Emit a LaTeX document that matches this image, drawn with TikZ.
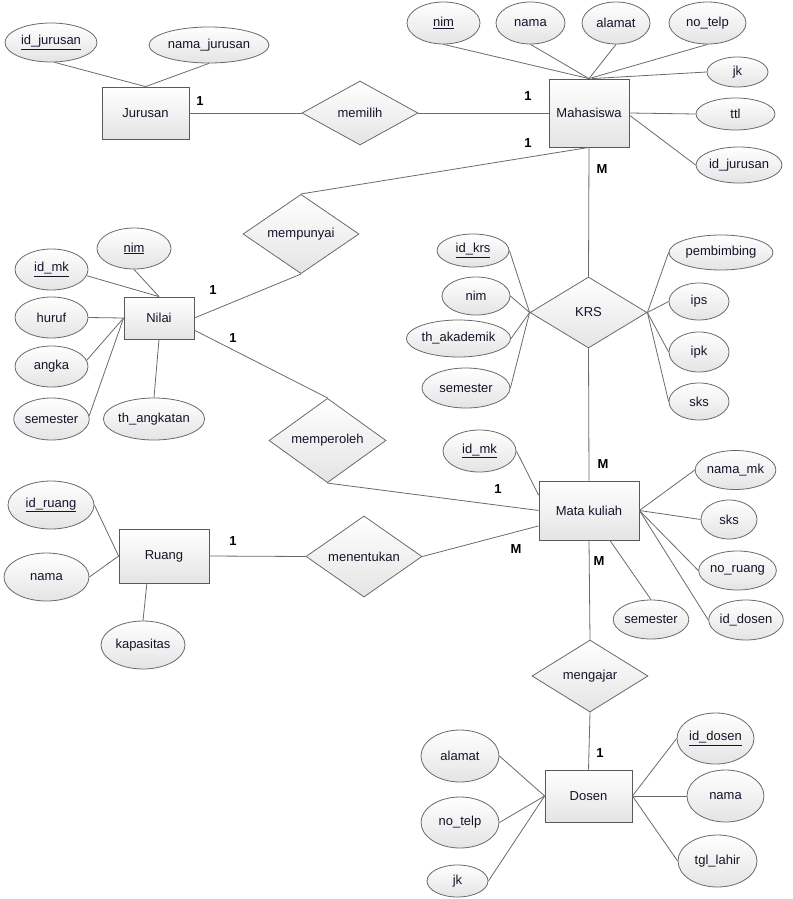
\documentclass[tikz,border=0pt]{standalone}
\usepackage{fontspec}
\setmainfont{Liberation Sans}
\usetikzlibrary{shapes.geometric,shadows}
\definecolor{edgegray}{HTML}{6A6A6A}
\definecolor{fillbot}{HTML}{E4E4E4}
\definecolor{txt}{HTML}{14142A}
\tikzset{
  base/.style={draw=edgegray, line width=0.8pt, top color=white, bottom color=fillbot, text=txt, inner sep=0pt, font=\fontsize{13}{15}\selectfont},
  entity/.style={base, rectangle, draw=black!65, drop shadow={shadow xshift=1.2pt, shadow yshift=-1.2pt, fill=black!25, opacity=1}},
  attr/.style={base, ellipse},
  rel/.style={base, diamond},
  conn/.style={draw=edgegray, line width=0.8pt},
  card/.style={font=\fontsize{13}{15}\selectfont\bfseries, text=black, inner sep=0pt}
}
\begin{document}
\begin{tikzpicture}[x=1pt,y=-1pt]
\useasboundingbox (0,0) rectangle (792,899);
% ---------- entities
\node[entity, minimum width=87pt, minimum height=52pt] (jur) at (145.5,113) {Jurusan};
\node[entity, minimum width=80pt, minimum height=68pt] (mah) at (589,113) {Mahasiswa};
\node[entity, minimum width=70pt, minimum height=42pt] (nil) at (159,318) {Nilai};
\node[entity, minimum width=100pt, minimum height=59pt] (mk) at (589,510.5) {Mata kuliah};
\node[entity, minimum width=90pt, minimum height=54pt] (rua) at (164,556) {Ruang};
\node[entity, minimum width=87pt, minimum height=52pt] (dos) at (588.5,796) {Dosen};
% ---------- relationships
\node[rel, minimum width=116pt, minimum height=64pt] (memilih) at (360,113) {memilih};
\node[rel, minimum width=116pt, minimum height=72pt] (mempunyai) at (301,234) {mempunyai};
\node[rel, minimum width=117pt, minimum height=71pt] (krs) at (588.5,312.5) {KRS};
\node[rel, minimum width=117pt, minimum height=71pt] (memperoleh) at (327.5,440.5) {memperoleh};
\node[rel, minimum width=116pt, minimum height=71pt] (menentukan) at (364,556.5) {menentukan};
\node[rel, minimum width=116pt, minimum height=72pt] (mengajar) at (590,676) {mengajar};
% ---------- Jurusan attributes
\node[attr, minimum width=92pt, minimum height=39pt] (jid) at (51,42.5) {\underline{id\_jurusan}};
\node[attr, minimum width=120pt, minimum height=36pt] (jnama) at (209,45) {nama\_jurusan};
% ---------- Mahasiswa attributes
\node[attr, minimum width=73pt, minimum height=42pt] (mnim) at (443.5,23) {\underline{nim}};
\node[attr, minimum width=69pt, minimum height=42pt] (mnama) at (530.5,23) {nama};
\node[attr, minimum width=68pt, minimum height=42pt] (malamat) at (616,23) {alamat};
\node[attr, minimum width=77pt, minimum height=42pt] (mtelp) at (707.5,23) {no\_telp};
\node[attr, minimum width=61pt, minimum height=30pt] (mjk) at (737.5,72) {jk};
\node[attr, minimum width=79pt, minimum height=32pt] (mttl) at (735.5,114) {ttl};
\node[attr, minimum width=86pt, minimum height=36pt] (mjur) at (739,165) {id\_jurusan};
% ---------- Nilai attributes
\node[attr, minimum width=74pt, minimum height=41pt] (nnim) at (134,248.5) {\underline{nim}};
\node[attr, minimum width=73pt, minimum height=41pt] (nmk) at (51.5,269.5) {\underline{id\_mk}};
\node[attr, minimum width=73pt, minimum height=41pt] (nhuruf) at (51.5,317.5) {huruf};
\node[attr, minimum width=73pt, minimum height=41pt] (nangka) at (51.5,366.5) {angka};
\node[attr, minimum width=73pt, minimum height=42pt] (nsem) at (51.5,419) {semester};
\node[attr, minimum width=80pt, minimum height=42pt] (nth) at (154,419) {th\_angkatan};
% ---------- KRS attributes
\node[attr, minimum width=72pt, minimum height=33pt] (kid) at (473,250.5) {\underline{id\_krs}};
\node[attr, minimum width=68pt, minimum height=38pt] (knim) at (476,296) {nim};
\node[attr, minimum width=103pt, minimum height=37pt] (kth) at (458.5,338.5) {th\_akademik};
\node[attr, minimum width=88pt, minimum height=40pt] (ksem) at (466,388) {semester};
\node[attr, minimum width=104pt, minimum height=35pt] (kpem) at (721,252.5) {pembimbing};
\node[attr, minimum width=60pt, minimum height=37pt] (kips) at (699,301.5) {ips};
\node[attr, minimum width=60pt, minimum height=40pt] (kipk) at (699,352) {ipk};
\node[attr, minimum width=60pt, minimum height=37pt] (ksks) at (699,401.5) {sks};
% ---------- Mata kuliah attributes
\node[attr, minimum width=73pt, minimum height=42pt] (kmid) at (479.5,451) {\underline{id\_mk}};
\node[attr, minimum width=67pt, minimum height=39pt] (kmnama) at (735.5,470) {nama\_mk};
\node[attr, minimum width=56pt, minimum height=39pt] (kmsks) at (729,519.5) {sks};
\node[attr, minimum width=71pt, minimum height=39pt] (kmruang) at (737.5,570.5) {no\_ruang};
\node[attr, minimum width=74pt, minimum height=40pt] (kmdos) at (746,620) {id\_dosen};
\node[attr, minimum width=72pt, minimum height=39pt] (kmsem) at (651,619.5) {semester};
% ---------- Ruang attributes
\node[attr, minimum width=86pt, minimum height=48pt] (rid) at (51,505) {\underline{id\_ruang}};
\node[attr, minimum width=85pt, minimum height=48pt] (rnama) at (46.5,577) {nama};
\node[attr, minimum width=84pt, minimum height=48pt] (rkap) at (143,645) {kapasitas};
% ---------- Dosen attributes
\node[attr, minimum width=78pt, minimum height=52pt] (dal) at (460,756) {alamat};
\node[attr, minimum width=78pt, minimum height=51pt] (dtelp) at (460,822.5) {no\_telp};
\node[attr, minimum width=61pt, minimum height=32pt] (djk) at (457.5,881) {jk};
\node[attr, minimum width=77pt, minimum height=51pt] (did) at (715.5,738.5) {\underline{id\_dosen}};
\node[attr, minimum width=77pt, minimum height=52pt] (dnama) at (725.5,796) {nama};
\node[attr, minimum width=79pt, minimum height=52pt] (dtgl) at (717.5,861) {tgl\_lahir};
% ---------- connectors: relationships
\draw[conn] (jur.east) -- (memilih.west);
\draw[conn] (memilih.east) -- (mah.west);
\draw[conn] (mah.south) -- (mempunyai.north);
\draw[conn] (mah.south) -- (krs.north);
\draw[conn] (nil.east) -- (mempunyai.south);
\draw[conn] (nil.-19) -- (memperoleh.north);
\draw[conn] (memperoleh.south) -- (mk.west);
\draw[conn] (krs.south) -- (mk.north);
\draw[conn] (rua.east) -- (menentukan.west);
\draw[conn] (menentukan.east) -- (mk.197);
\draw[conn] (mk.south) -- (mengajar.north);
\draw[conn] (mengajar.south) -- (dos.north);
% ---------- connectors: attributes
\draw[conn] (jid.-80) -- (jur.north);
\draw[conn] (jnama.south) -- (jur.north);
\draw[conn] (mnim.south) -- (mah.north);
\draw[conn] (mnama.south) -- (mah.north);
\draw[conn] (malamat.south) -- (mah.north);
\draw[conn] (mtelp.south) -- (mah.north);
\draw[conn] (mjk.west) -- ([xshift=3pt]mah.north);
\draw[conn] (mah.east) -- (mttl.west);
\draw[conn] (mah.-3) -- (mjur.west);
\draw[conn] (nnim.south) -- (nil.north);
\draw[conn] (nmk.-10) -- (nil.north);
\draw[conn] (nhuruf.east) -- (nil.west);
\draw[conn] (nangka.10) -- (nil.west);
\draw[conn] (nsem.5) -- (nil.west);
\draw[conn] (nth.north) -- (nil.south);
\draw[conn] (kid.east) -- (krs.west);
\draw[conn] (knim.east) -- (krs.west);
\draw[conn] (kth.east) -- (krs.west);
\draw[conn] (ksem.east) -- (krs.west);
\draw[conn] (krs.east) -- (kpem.west);
\draw[conn] (krs.east) -- (kips.west);
\draw[conn] (krs.east) -- (kipk.west);
\draw[conn] (krs.east) -- (ksks.west);
\draw[conn] (kmid.east) -- (mk.163);
\draw[conn] (mk.east) -- (kmnama.west);
\draw[conn] (mk.east) -- (kmsks.west);
\draw[conn] (mk.east) -- (kmruang.west);
\draw[conn] (mk.east) -- (kmdos.west);
\draw[conn] (mk.-55) -- (kmsem.north);
\draw[conn] (rid.east) -- (rua.west);
\draw[conn] (rnama.east) -- (rua.west);
\draw[conn] (rkap.north) -- (rua.-122);
\draw[conn] (dal.east) -- (dos.west);
\draw[conn] (dtelp.east) -- (dos.west);
\draw[conn] (djk.east) -- (dos.west);
\draw[conn] (did.west) -- (dos.east);
\draw[conn] (dnama.west) -- (dos.east);
\draw[conn] (dtgl.west) -- (dos.east);
% ---------- cardinalities
\node[card] (c1) at (200,101) {1};
\node[card] (c2) at (528,96) {1};
\node[card] (c3) at (528,143) {1};
\node[card] (c4) at (602,169) {M};
\node[card] (c5) at (213,290) {1};
\node[card] (c6) at (233,338) {1};
\node[card] (c7) at (603,464) {M};
\node[card] (c8) at (498,489) {1};
\node[card] (c9) at (516,549) {M};
\node[card] (c10) at (599,561) {M};
\node[card] (c11) at (233,541) {1};
\node[card] (c12) at (600,753) {1};
\end{tikzpicture}
\end{document}
